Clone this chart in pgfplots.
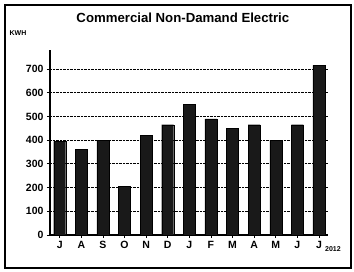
\documentclass[border=0pt]{standalone}
\usepackage{pgfplots}
\pgfplotsset{compat=1.18}
\usepackage{fontspec}
\setmainfont{Liberation Sans}
\begin{document}
\begin{tikzpicture}
\useasboundingbox (-50pt,-37pt) rectangle (304pt,235pt);
\draw[line width=1.2pt] (-45pt,-33pt) rectangle (301pt,230pt);
\begin{axis}[
  at={(0,0)}, anchor=south west,
  scale only axis, width=277.6pt, height=185pt,
  xmin=-0.45, xmax=12.4, ymin=0, ymax=780,
  axis x line*=bottom, axis y line*=left,
  axis line style={line width=1.2pt},
  ybar, bar width=12pt,
  xtick={0,...,12},
  xticklabels={J,A,S,O,N,D,J,F,M,A,M,J,J},
  ytick={0,100,...,700},
  ymajorgrids, grid style={densely dotted, line width=0.9pt, black},
  tick style={black, line width=0.8pt},
  major tick length=3pt,
  tick align=outside,
  ticklabel style={font=\bfseries\fontsize{10.5}{12}\selectfont},
  /pgf/number format/assume math mode=true,
  /pgf/number format/1000 sep={},
  clip=false,
]
\addplot[fill=black!90, draw=black, bar shift=0pt] coordinates {
(0,395) (1,360) (2,400) (3,205) (4,420) (5,465) (6,550)
(7,490) (8,450) (9,465) (10,400) (11,465) (12,715)};
\node[font=\bfseries\fontsize{13.2}{16}\selectfont] at (axis cs:5.7,915) {Commercial Non-Damand Electric};
\end{axis}
\node[font=\bfseries\scriptsize] at (-32pt,202pt) {KWH};
\node[font=\bfseries\scriptsize] at (283pt,-14pt) {2012};
\end{tikzpicture}
\end{document}
